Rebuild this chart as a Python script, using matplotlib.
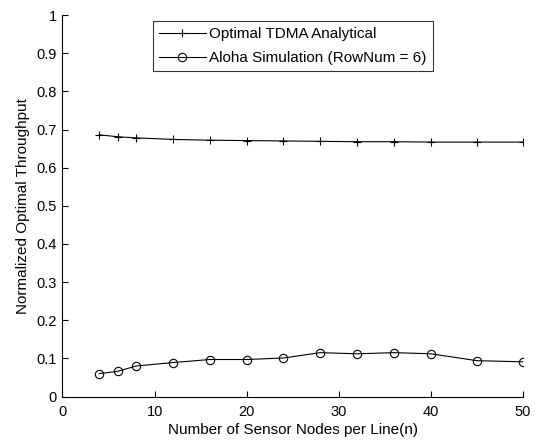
import numpy as np
import matplotlib
matplotlib.use('Agg')
import matplotlib.pyplot as plt

plt.rcParams['font.family'] = ['Liberation Sans', 'DejaVu Sans']

# 数据
n_nodes = [4, 6, 8, 12, 16, 20, 24, 28, 32, 36, 40, 45, 50]
tdma_analytical = [0.686, 0.681, 0.678, 0.674, 0.672, 0.671, 0.670,
                   0.669, 0.668, 0.668, 0.667, 0.667, 0.667]
aloha_sim = [0.060, 0.066, 0.080, 0.089, 0.097, 0.097, 0.101,
             0.115, 0.112, 0.115, 0.112, 0.094, 0.091]
x_ticks = [0, 10, 20, 30, 40, 50]
y_ticks = [0, 0.1, 0.2, 0.3, 0.4, 0.5, 0.6, 0.7, 0.8, 0.9, 1]

fig = plt.figure(figsize=(5.41, 4.42), dpi=100)
ax = fig.add_axes([0.1155, 0.1029, 0.851, 0.863])

ax.plot(n_nodes, tdma_analytical, color='black', linewidth=0.8, marker='+',
        markersize=6, markeredgewidth=0.8, label='Optimal TDMA Analytical')
ax.plot(n_nodes, aloha_sim, color='black', linewidth=0.8, marker='o',
        markersize=6, markerfacecolor='none', markeredgewidth=0.8,
        label='Aloha Simulation (RowNum = 6)')

ax.set_xlim(0, 50)
ax.set_ylim(0, 1)
ax.set_xticks(x_ticks)
ax.set_yticks(y_ticks)
ax.set_yticklabels([f'{v:g}' for v in y_ticks])
ax.tick_params(direction='in', length=4, width=0.8, labelsize=10.5,
               colors='black')
ax.tick_params(axis='x', pad=6)
ax.tick_params(axis='y', pad=4)
for side in ['top', 'right']:
    ax.spines[side].set_visible(False)
for side in ['left', 'bottom']:
    ax.spines[side].set_linewidth(0.8)

ax.set_xlabel('Number of Sensor Nodes per Line(n)', fontsize=11, labelpad=3)
ax.set_ylabel('Normalized Optimal Throughput', fontsize=11, labelpad=5)

leg = ax.legend(loc='upper center', bbox_to_anchor=(0.5, 0.984),
                borderaxespad=0, fontsize=11, frameon=True, fancybox=False,
                edgecolor='black', handlelength=3.1, handletextpad=0.2,
                borderpad=0.4, labelspacing=0.65)
leg.get_frame().set_linewidth(0.8)

plt.savefig('out.png', dpi=100)
